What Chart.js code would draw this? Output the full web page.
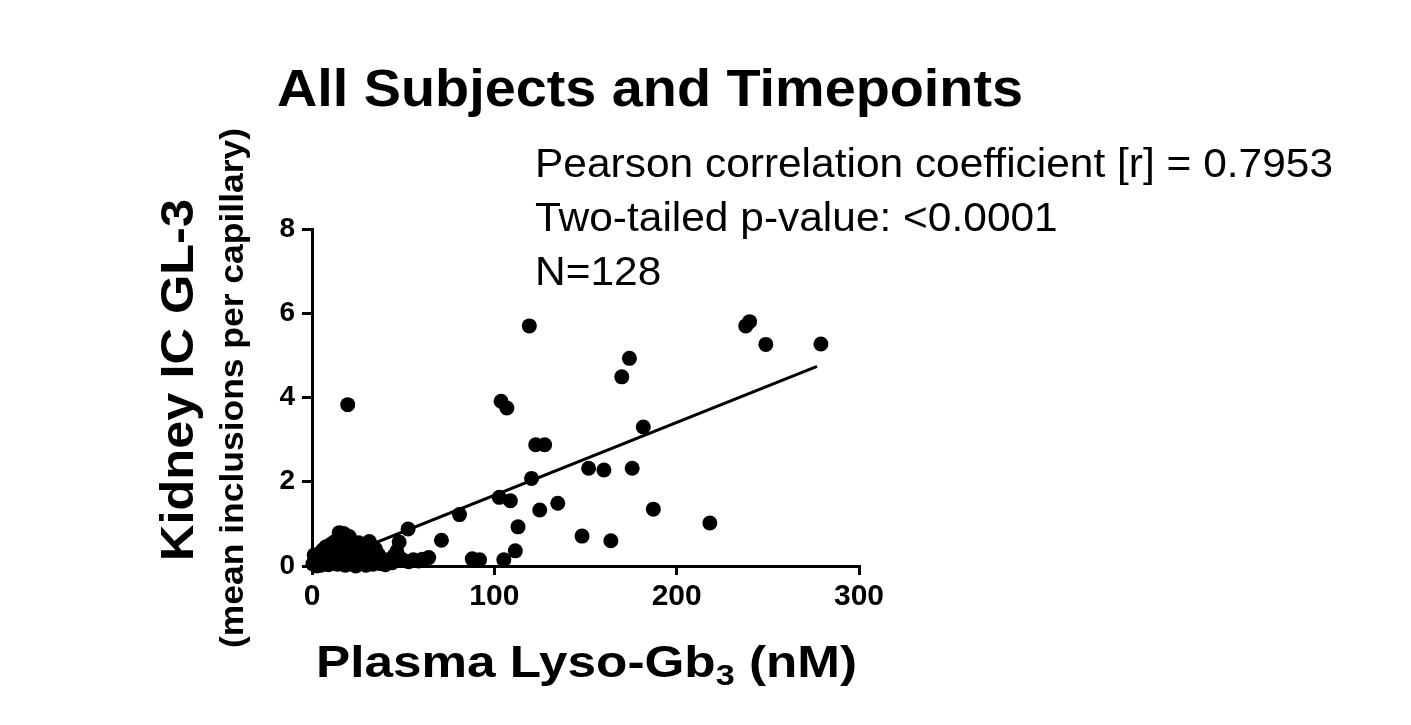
<!DOCTYPE html>
<html>
<head>
<meta charset="utf-8">
<script src="https://cdn.jsdelivr.net/npm/chart.js@4"></script>
<style>
  body { margin: 0; background: #fff; }
  #wrap { width: 1411px; height: 725px; }
</style>
</head>
<body>
<div id="wrap"><canvas id="chart" width="1411" height="725"></canvas></div>
<script>
// plasma lyso-Gb3 (nM) and kidney IC GL-3 per subject/timepoint
const lysoGb3 = [
  119.2, 237.9, 240.0, 248.9, 279.1, 174.1, 169.9, 19.6, 103.7, 106.9,
  181.7, 122.7, 127.6, 151.7, 160.1, 175.6, 120.4, 102.7, 108.8, 134.8,
  124.9, 187.2, 80.9, 218.2, 113.0, 52.7, 148.1, 163.9, 71.0, 47.8,
  111.5, 105.2, 87.9, 91.9, 64.0, 55.6, 50.3, 45.1, 44.0, 46.5,
  58.5, 48.5, 53.0, 60.5,
  0.5, 1.2, 1.8, 2.5, 3.1, 3.6, 4.2, 4.8, 5.3, 5.9,
  6.4, 6.9, 7.5, 8.0, 8.4, 8.9, 9.3, 9.8, 10.2, 10.6,
  11.0, 11.5, 11.9, 12.3, 12.8, 13.2, 13.6, 14.0, 14.4, 14.9,
  15.3, 15.7, 16.1, 16.5, 16.9, 17.4, 17.8, 18.2, 18.6, 19.0,
  19.5, 19.9, 20.4, 20.8, 21.2, 21.7, 22.1, 22.6, 23.0, 23.5,
  24.0, 24.5, 25.0, 25.6, 26.1, 26.7, 27.2, 27.8, 28.4, 29.0,
  29.6, 30.2, 30.8, 31.4, 32.0, 32.6, 33.3, 34.0, 34.8, 35.5,
  36.3, 37.2, 38.1, 39.0, 40.2, 41.5,
  2.0, 7.0, 12.0, 15.0, 18.0, 22.0, 26.0, 31.0
];
const kidneyGL3 = [
  5.70, 5.70, 5.80, 5.26, 5.27, 4.93, 4.49, 3.83, 3.91, 3.75,
  3.30, 2.88, 2.88, 2.32, 2.28, 2.32, 2.08, 1.63, 1.55, 1.49,
  1.33, 1.35, 1.22, 1.02, 0.93, 0.88, 0.71, 0.60, 0.61, 0.57,
  0.36, 0.15, 0.17, 0.15, 0.20, 0.15, 0.13, 0.25, 0.08, 0.35,
  0.12, 0.18, 0.10, 0.16,
  0.05, 0.26, 0.12, 0.00, 0.18, 0.08, 0.30, 0.02, 0.15, 0.38,
  0.07, 0.24, 0.45, 0.11, 0.32, 0.03, 0.20, 0.50, 0.14, 0.36,
  0.06, 0.55, 0.25, 0.42, 0.10, 0.60, 0.31, 0.04, 0.48, 0.79,
  0.18, 0.65, 0.38, 0.09, 0.52, 0.77, 0.28, 0.02, 0.44, 0.60,
  0.15, 0.35, 0.70, 0.05, 0.50, 0.22, 0.40, 0.12, 0.55, 0.30,
  0.00, 0.45, 0.18, 0.55, 0.35, 0.08, 0.25, 0.48, 0.13, 0.38,
  0.02, 0.20, 0.45, 0.58, 0.10, 0.30, 0.04, 0.22, 0.40, 0.12,
  0.28, 0.06, 0.18, 0.10, 0.03, 0.14,
  0.20, 0.10, 0.20, 0.30, 0.10, 0.25, 0.12, 0.32
];
// linear fit line ends
const fitX = [3, 277];
const fitY = [0.0, 4.74];

const xTicks = [0, 100, 200, 300];
const yTicks = [0, 2, 4, 6, 8];

const titleText = "All Subjects and Timepoints";
const statLines = [
  "Pearson correlation coefficient [r] = 0.7953",
  "Two-tailed p-value: <0.0001",
  "N=128"
];
const yTitle1 = "Kidney IC GL-3";
const yTitle2 = "(mean inclusions per capillary)";

const FONT = "'Liberation Sans', Arial, Helvetica, sans-serif";

let points = lysoGb3.map((x, i) => ({ x: x, y: kidneyGL3[i] }));
let fitLine = fitX.map((x, i) => ({ x: x, y: fitY[i] }));

// the source figure's text is a bit wider than plain Arial, so stretch it
function stretchText(ctx, text, x, y, font, sx) {
  ctx.save();
  ctx.font = font;
  ctx.translate(x, y);
  ctx.scale(sx, 1);
  ctx.fillText(text, 0, 0);
  ctx.restore();
}
function widthOf(ctx, text, font) {
  ctx.font = font;
  return ctx.measureText(text).width;
}

const textPlugin = {
  id: "texts",
  afterDraw(chart) {
    const ctx = chart.ctx;
    ctx.save();
    ctx.fillStyle = "#000";
    ctx.textBaseline = "alphabetic";
    ctx.textAlign = "left";

    let tf = "bold 51px " + FONT;
    stretchText(ctx, titleText, 277, 106, tf, 746 / widthOf(ctx, titleText, tf));

    let sf = "41px " + FONT;
    let ssx = 798 / widthOf(ctx, statLines[0], sf);
    statLines.forEach((t, i) => stretchText(ctx, t, 535, 177 + i * 54, sf, ssx));

    // x axis title with subscript 3
    let big = "bold 45px " + FONT, small = "bold 30px " + FONT;
    let a = "Plasma Lyso-Gb", b = " (nM)";
    let raw = widthOf(ctx, a, big) + widthOf(ctx, "3", small) + widthOf(ctx, b, big);
    let sx = 541 / raw;
    let wa = widthOf(ctx, a, big) * sx;
    let ws = widthOf(ctx, "3", small) * sx;
    let x0 = 316;
    let base = 677;
    stretchText(ctx, a, x0, base, big, sx);
    stretchText(ctx, "3", x0 + wa, base + 8, small, sx);
    stretchText(ctx, b, x0 + wa + ws, base, big, sx);

    // y axis titles
    ctx.translate(193, 380);
    ctx.rotate(-Math.PI / 2);
    let f1 = "bold 47px " + FONT;
    stretchText(ctx, yTitle1, -181, 0, f1, 362 / widthOf(ctx, yTitle1, f1));
    let f2 = "bold 34px " + FONT;
    stretchText(ctx, yTitle2, -268, 50, f2, 520 / widthOf(ctx, yTitle2, f2));
    ctx.restore();
  }
};

new Chart(document.getElementById("chart"), {
  type: "scatter",
  data: {
    datasets: [
      {
        data: points,
        backgroundColor: "#000",
        borderWidth: 0,
        pointRadius: 7.5,
        clip: false
      },
      {
        type: "line",
        data: fitLine,
        borderColor: "#000",
        borderWidth: 3,
        pointRadius: 0,
        fill: false
      }
    ]
  },
  options: {
    responsive: false,
    animation: false,
    layout: { padding: { left: 252, top: 229, right: 552, bottom: 99 } },
    plugins: {
      legend: { display: false },
      tooltip: { enabled: false },
      title: { display: false }
    },
    scales: {
      x: {
        type: "linear",
        min: 0,
        max: 300,
        afterBuildTicks: s => { s.ticks = xTicks.map(v => ({ value: v })); },
        afterFit: s => { s.height = 60; },
        ticks: { color: "#000", font: { family: FONT, size: 30, weight: "bold" }, padding: 4 },
        grid: { drawOnChartArea: false, drawTicks: true, tickLength: 9, color: "#000", lineWidth: 3 },
        border: { color: "#000", width: 3 }
      },
      y: {
        min: 0,
        max: 8,
        afterBuildTicks: s => { s.ticks = yTicks.map(v => ({ value: v })); },
        afterFit: s => { s.width = 60; },
        ticks: { color: "#000", font: { family: FONT, size: 28, weight: "bold" }, padding: 7 },
        grid: { drawOnChartArea: false, drawTicks: true, tickLength: 10, color: "#000", lineWidth: 3 },
        border: { color: "#000", width: 3 }
      }
    }
  },
  plugins: [textPlugin]
});
</script>
</body>
</html>
